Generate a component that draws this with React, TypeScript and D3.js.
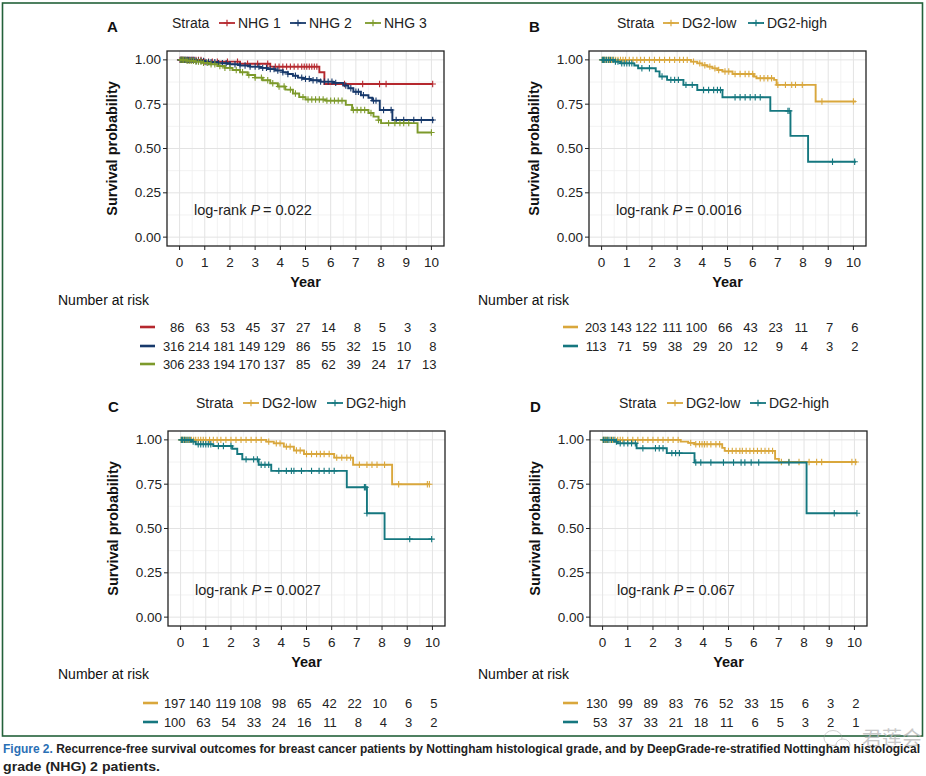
import React from "react";
import * as d3 from "d3";

type Step = [number, number];

// ---- data ----
const yearTicks = [0, 1, 2, 3, 4, 5, 6, 7, 8, 9, 10];
const survTicks = [0, 0.25, 0.5, 0.75, 1];
const survTickLabels = ["0.00", "0.25", "0.50", "0.75", "1.00"];

// Panel A: NHG grades
const nhg1Steps: Step[] = [[0, 1], [0.9, 0.99], [2.4, 0.978], [3.6, 0.962], [5.55, 0.93], [5.75, 0.864], [10.05, 0.864]];
const nhg1Censor = [0.02, 0.08, 0.12, 0.18, 0.25, 0.32, 0.4, 0.48, 0.55, 0.65, 0.75, 0.85, 1.0, 1.15, 1.3, 1.5, 1.9, 2.3, 2.7, 3.1, 3.5, 3.8, 3.95, 4.1, 4.25, 4.4, 4.55, 4.7, 4.85, 4.95, 5.05, 5.15, 5.25, 5.35, 5.45, 6.55, 7.27, 7.94, 8.2, 10.05];
const nhg2Steps: Step[] = [[0, 1], [0.6, 0.994], [1.0, 0.987], [1.5, 0.981], [2.0, 0.975], [2.4, 0.968], [2.8, 0.962], [3.2, 0.955], [3.5, 0.948], [3.8, 0.94], [4.1, 0.93], [4.3, 0.92], [4.5, 0.91], [4.7, 0.9], [4.9, 0.893], [5.2, 0.885], [5.6, 0.877], [6.1, 0.87], [6.5, 0.855], [6.7, 0.84], [6.9, 0.82], [7.2, 0.8], [7.5, 0.786], [7.65, 0.77], [7.95, 0.717], [8.45, 0.661], [10.1, 0.661]];
const nhg2Censor = [0.03, 0.07, 0.1, 0.15, 0.2, 0.25, 0.3, 0.35, 0.42, 0.5, 0.58, 0.66, 0.75, 0.85, 0.95, 1.05, 1.15, 1.25, 1.4, 1.55, 1.7, 1.85, 2.0, 2.2, 2.4, 2.6, 2.8, 3.0, 3.15, 3.3, 3.45, 3.6, 3.75, 3.9, 4.1, 4.3, 4.6, 4.85, 5.0, 5.15, 5.3, 5.45, 5.6, 5.75, 5.9, 6.05, 6.2, 6.6, 6.8, 7.0, 7.1, 7.3, 7.7, 7.8, 8.1, 8.4, 8.6, 8.9, 9.3, 9.6, 10.05];
const nhg3Steps: Step[] = [[0, 1], [0.3, 0.995], [0.6, 0.99], [0.9, 0.983], [1.2, 0.975], [1.5, 0.965], [1.8, 0.955], [2.1, 0.943], [2.4, 0.93], [2.7, 0.915], [3.0, 0.9], [3.3, 0.885], [3.6, 0.868], [3.9, 0.85], [4.2, 0.832], [4.5, 0.81], [4.75, 0.79], [5.0, 0.776], [5.8, 0.77], [6.6, 0.746], [6.85, 0.717], [7.5, 0.7], [7.7, 0.68], [7.9, 0.66], [8.0, 0.643], [9.45, 0.59], [10.0, 0.59]];
const nhg3Censor = [0.05, 0.1, 0.15, 0.22, 0.3, 0.38, 0.46, 0.55, 0.65, 0.75, 0.85, 0.95, 1.1, 1.25, 1.4, 1.6, 1.8, 2.0, 2.25, 2.5, 2.75, 3.0, 3.25, 3.5, 3.7, 3.95, 4.15, 4.4, 4.6, 4.9, 5.1, 5.25, 5.4, 5.55, 5.7, 5.85, 6.0, 6.15, 6.3, 6.45, 6.9, 7.05, 7.2, 7.35, 7.6, 7.9, 8.3, 8.55, 8.75, 8.9, 9.1, 10.0];
const riskNhg1 = [86, 63, 53, 45, 37, 27, 14, 8, 5, 3, 3];
const riskNhg2 = [316, 214, 181, 149, 129, 86, 55, 32, 15, 10, 8];
const riskNhg3 = [306, 233, 194, 170, 137, 85, 62, 39, 24, 17, 13];

// Panel B
const bLowSteps: Step[] = [[0, 1], [3.55, 0.99], [3.8, 0.98], [4.0, 0.97], [4.2, 0.962], [4.4, 0.952], [4.6, 0.943], [4.8, 0.934], [5.2, 0.92], [6.05, 0.906], [6.15, 0.896], [6.85, 0.887], [6.95, 0.859], [8.5, 0.765], [10.1, 0.765]];
const bLowCensor = [0.02, 0.06, 0.1, 0.14, 0.2, 0.26, 0.32, 0.4, 0.48, 0.56, 0.65, 0.75, 0.85, 0.95, 1.1, 1.25, 1.4, 1.55, 1.7, 1.9, 2.1, 2.3, 2.5, 2.7, 2.9, 3.1, 3.25, 3.4, 3.65, 3.9, 4.1, 4.3, 4.5, 4.65, 4.9, 5.05, 5.3, 5.5, 5.7, 5.85, 6.0, 6.3, 6.45, 6.6, 6.75, 7.0, 7.3, 7.55, 7.7, 7.97, 8.75, 10.0];
const bHighSteps: Step[] = [[0, 1], [0.5, 0.99], [0.75, 0.98], [1.3, 0.968], [1.45, 0.953], [2.15, 0.935], [2.3, 0.906], [2.6, 0.887], [3.25, 0.859], [3.8, 0.83], [4.8, 0.789], [6.7, 0.712], [7.5, 0.571], [8.2, 0.425], [10.1, 0.425]];
const bHighCensor = [0.03, 0.08, 0.13, 0.2, 0.28, 0.35, 0.45, 0.55, 0.65, 0.8, 0.9, 1.0, 1.1, 1.2, 1.6, 1.9, 2.4, 2.75, 2.9, 3.05, 3.35, 3.6, 4.05, 4.25, 4.45, 4.6, 4.72, 5.3, 5.5, 5.7, 5.9, 6.1, 6.3, 7.4, 7.45, 9.17, 10.05];
const riskBLow = [203, 143, 122, 111, 100, 66, 43, 23, 11, 7, 6];
const riskBHigh = [113, 71, 59, 38, 29, 20, 12, 9, 4, 3, 2];

// Panel C
const cLowSteps: Step[] = [[0, 1], [3.4, 0.99], [3.7, 0.98], [4.1, 0.962], [4.5, 0.94], [4.9, 0.92], [6.1, 0.9], [6.85, 0.86], [8.4, 0.75], [9.88, 0.75]];
const cLowCensor = [0.02, 0.06, 0.1, 0.15, 0.2, 0.27, 0.35, 0.43, 0.52, 0.6, 0.7, 0.8, 0.9, 1.0, 1.15, 1.3, 1.45, 1.6, 1.8, 2.0, 2.2, 2.4, 2.6, 2.8, 3.0, 3.2, 3.5, 3.8, 3.95, 4.2, 4.35, 4.6, 4.75, 5.0, 5.2, 5.4, 5.55, 5.7, 5.9, 6.2, 6.4, 6.6, 6.75, 7.1, 7.4, 7.6, 7.8, 8.1, 8.66, 9.8, 9.88];
const cHighSteps: Step[] = [[0, 1], [0.45, 0.99], [0.6, 0.975], [1.3, 0.965], [2.05, 0.95], [2.25, 0.92], [2.45, 0.89], [3.1, 0.86], [3.6, 0.825], [6.6, 0.733], [7.4, 0.586], [8.1, 0.44], [10.0, 0.44]];
const cHighCensor = [0.03, 0.08, 0.15, 0.22, 0.3, 0.38, 0.5, 0.7, 0.8, 0.9, 1.0, 1.1, 1.2, 1.5, 1.7, 2.0, 2.6, 2.9, 3.05, 3.2, 3.35, 3.5, 3.9, 4.2, 4.4, 4.5, 4.8, 5.2, 5.5, 5.7, 5.9, 6.1, 7.3, 7.35, 7.4, 9.1, 9.97];
const riskCLow = [197, 140, 119, 108, 98, 65, 42, 22, 10, 6, 5];
const riskCHigh = [100, 63, 54, 33, 24, 16, 11, 8, 4, 3, 2];

// Panel D
const dLowSteps: Step[] = [[0, 1], [3.1, 0.99], [3.4, 0.983], [3.65, 0.975], [4.75, 0.955], [4.85, 0.938], [6.85, 0.893], [7.0, 0.875], [10.1, 0.875]];
const dLowCensor = [0.02, 0.06, 0.1, 0.15, 0.2, 0.3, 0.4, 0.5, 0.6, 0.7, 0.8, 1.0, 1.2, 1.4, 1.6, 1.8, 2.0, 2.2, 2.4, 2.6, 2.8, 3.0, 3.5, 3.7, 3.85, 3.95, 4.05, 4.15, 4.3, 4.5, 4.65, 5.0, 5.15, 5.3, 5.45, 5.55, 5.7, 5.85, 6.0, 6.15, 6.3, 6.45, 6.6, 6.75, 7.1, 7.4, 7.8, 8.2, 8.5, 8.7, 9.9, 10.05];
const dHighSteps: Step[] = [[0, 1], [0.5, 0.99], [0.6, 0.98], [1.35, 0.953], [2.55, 0.925], [3.65, 0.872], [8.1, 0.586], [10.1, 0.586]];
const dHighCensor = [0.03, 0.1, 0.18, 0.25, 0.35, 0.45, 0.55, 0.7, 0.85, 1.0, 1.15, 1.3, 1.6, 2.1, 2.25, 2.4, 2.75, 2.9, 3.05, 3.7, 3.9, 4.3, 4.8, 5.2, 5.5, 5.65, 5.9, 6.2, 7.4, 9.2, 10.1];
const riskDLow = [130, 99, 89, 83, 76, 52, 33, 15, 6, 3, 2];
const riskDHigh = [53, 37, 33, 21, 18, 11, 6, 5, 3, 2, 1];

// ---- styling ----
const FONT = "'Liberation Sans', Arial, Helvetica, sans-serif";
const RED = "#b5282e";
const NAVY = "#17396b";
const OLIVE = "#7d9a2b";
const GOLD = "#d9a73c";
const TEAL = "#15777f";
const PW = 277;
const PH = 195;

interface Curve { label: string; color: string; steps: Step[]; censor: number[]; risk: number[]; keyX: number; }
interface PanelCfg {
  letter: string; left: number; top: number; curves: Curve[]; strataX: number;
  p: string; riskTitleX: number; riskTitleY: number; rowY: number[]; dashX: number;
}

const survAt = (steps: Step[], t: number) => {
  let s = steps[0][1];
  for (const [tt, ss] of steps) { if (tt <= t) s = ss; else break; }
  return s;
};

const panels: PanelCfg[] = [
  {
    letter: "A", left: 167, top: 51, strataX: 172, p: "0.022",
    riskTitleX: 58, riskTitleY: 300, rowY: [327, 346, 364], dashX: 140,
    curves: [
      { label: "NHG 1", color: RED, steps: nhg1Steps, censor: nhg1Censor, risk: riskNhg1, keyX: 219 },
      { label: "NHG 2", color: NAVY, steps: nhg2Steps, censor: nhg2Censor, risk: riskNhg2, keyX: 290 },
      { label: "NHG 3", color: OLIVE, steps: nhg3Steps, censor: nhg3Censor, risk: riskNhg3, keyX: 365 },
    ],
  },
  {
    letter: "B", left: 589, top: 51, strataX: 617, p: "0.0016",
    riskTitleX: 478, riskTitleY: 300, rowY: [327, 346], dashX: 563,
    curves: [
      { label: "DG2-low", color: GOLD, steps: bLowSteps, censor: bLowCensor, risk: riskBLow, keyX: 663 },
      { label: "DG2-high", color: TEAL, steps: bHighSteps, censor: bHighCensor, risk: riskBHigh, keyX: 748 },
    ],
  },
  {
    letter: "C", left: 168, top: 431, strataX: 196, p: "0.0027",
    riskTitleX: 58, riskTitleY: 674, rowY: [703, 722], dashX: 143,
    curves: [
      { label: "DG2-low", color: GOLD, steps: cLowSteps, censor: cLowCensor, risk: riskCLow, keyX: 243 },
      { label: "DG2-high", color: TEAL, steps: cHighSteps, censor: cHighCensor, risk: riskCHigh, keyX: 327 },
    ],
  },
  {
    letter: "D", left: 590, top: 431, strataX: 619, p: "0.067",
    riskTitleX: 478, riskTitleY: 674, rowY: [703, 722], dashX: 563,
    curves: [
      { label: "DG2-low", color: GOLD, steps: dLowSteps, censor: dLowCensor, risk: riskDLow, keyX: 667 },
      { label: "DG2-high", color: TEAL, steps: dHighSteps, censor: dHighCensor, risk: riskDHigh, keyX: 750 },
    ],
  },
];

const cross = (cx: number, cy: number, r = 3.2) => `M${cx - r},${cy}h${2 * r}M${cx},${cy - r}v${2 * r}`;

const Panel = ({ cfg }: { cfg: PanelCfg }) => {
  const x = d3.scaleLinear().domain([-0.5, 10.5]).range([cfg.left, cfg.left + PW]);
  const y = d3.scaleLinear().domain([-0.05, 1.05]).range([cfg.top + PH, cfg.top]);
  const line = d3.line<Step>().x(d => x(d[0])).y(d => y(d[1])).curve(d3.curveStepAfter);
  const bottom = cfg.top + PH;
  const right = cfg.left + PW;
  const legY = cfg.top - 28;
  const xMinor = yearTicks.slice(1).map(v => v - 0.5);
  const yMinor = survTicks.slice(1).map(v => v - 0.125);

  return (
    <g fontFamily={FONT}>
      <text x={cfg.left - 60} y={legY + 3.5} fontSize={15} fontWeight="bold" fill="#111" dominantBaseline="central">{cfg.letter}</text>
      {/* legend */}
      <text x={cfg.strataX} y={legY} fontSize={14} fill="#222" dominantBaseline="central">Strata</text>
      {cfg.curves.map(c => (
        <g key={c.label}>
          <line x1={c.keyX} x2={c.keyX + 16} y1={legY} y2={legY} stroke={c.color} strokeWidth={1.8} />
          <path d={cross(c.keyX + 8, legY)} stroke={c.color} strokeWidth={1.2} />
          <text x={c.keyX + 19} y={legY} fontSize={14} fill="#222" dominantBaseline="central">{c.label}</text>
        </g>
      ))}
      {/* grid */}
      {xMinor.map(v => <line key={"xm" + v} x1={x(v)} x2={x(v)} y1={cfg.top} y2={bottom} stroke="#efefef" strokeWidth={0.8} />)}
      {yMinor.map(v => <line key={"ym" + v} x1={cfg.left} x2={right} y1={y(v)} y2={y(v)} stroke="#efefef" strokeWidth={0.8} />)}
      {yearTicks.map(v => <line key={"xg" + v} x1={x(v)} x2={x(v)} y1={cfg.top} y2={bottom} stroke="#e3e3e3" strokeWidth={1} />)}
      {survTicks.map(v => <line key={"yg" + v} x1={cfg.left} x2={right} y1={y(v)} y2={y(v)} stroke="#e3e3e3" strokeWidth={1} />)}
      {/* curves */}
      {cfg.curves.map(c => (
        <g key={"c" + c.label}>
          <path d={line(c.steps) || ""} fill="none" stroke={c.color} strokeWidth={1.9} />
          {c.censor.map((t, i) => (
            <path key={i} d={cross(x(t), y(survAt(c.steps, t)))} stroke={c.color} strokeWidth={1.1} fill="none" />
          ))}
        </g>
      ))}
      <text x={cfg.left + 27} y={cfg.top + 159} fontSize={14.5} fill="#222" dominantBaseline="central">
        log-rank <tspan fontStyle="italic">P</tspan>{"\u2009= " + cfg.p}
      </text>
      {/* frame + axes */}
      <rect x={cfg.left} y={cfg.top} width={PW} height={PH} fill="none" stroke="#222" strokeWidth={1.3} />
      {survTicks.map((v, i) => (
        <g key={"yt" + v}>
          <line x1={cfg.left - 4} x2={cfg.left} y1={y(v)} y2={y(v)} stroke="#222" strokeWidth={1} />
          <text x={cfg.left - 6} y={y(v)} fontSize={13.5} fill="#222" textAnchor="end" dominantBaseline="central">{survTickLabels[i]}</text>
        </g>
      ))}
      {yearTicks.map(v => (
        <g key={"xt" + v}>
          <line x1={x(v)} x2={x(v)} y1={bottom} y2={bottom + 4} stroke="#222" strokeWidth={1} />
          <text x={x(v)} y={bottom + 16} fontSize={13.5} fill="#222" textAnchor="middle" dominantBaseline="central">{v}</text>
        </g>
      ))}
      <text x={(cfg.left + right) / 2} y={bottom + 36} fontSize={14.5} fontWeight="bold" fill="#111" textAnchor="middle" dominantBaseline="central">Year</text>
      <text transform={`translate(${cfg.left - 55},${(cfg.top + bottom) / 2}) rotate(-90)`} fontSize={14.5} fontWeight="bold" fill="#111" textAnchor="middle" dominantBaseline="central">Survival probability</text>
      {/* risk table */}
      <text x={cfg.riskTitleX} y={cfg.riskTitleY} fontSize={14} fill="#111" dominantBaseline="central">Number at risk</text>
      {cfg.curves.map((c, ci) => (
        <g key={"r" + c.label}>
          <line x1={cfg.dashX} x2={cfg.dashX + 15} y1={cfg.rowY[ci]} y2={cfg.rowY[ci]} stroke={c.color} strokeWidth={2.6} />
          {c.risk.map((n, i) => (
            <text key={i} x={x(yearTicks[i]) + 5} y={cfg.rowY[ci]} fontSize={13} fill="#222" textAnchor="end" dominantBaseline="central">{n}</text>
          ))}
        </g>
      ))}
    </g>
  );
};

export default function App() {
  return (
    <svg width={926} height={776} style={{ position: "absolute", left: 0, top: 0, background: "#fff" }}>
      <rect x={0} y={0} width={926} height={776} fill="#fff" />
      <rect x={2.5} y={3} width={920} height={733} fill="none" stroke="#23613a" strokeWidth={1.6} />
      {panels.map(p => <Panel key={p.letter} cfg={p} />)}
      {/* watermark */}
      <g opacity={0.45} fill="none" stroke="#999" strokeWidth={1}>
        <ellipse cx={833} cy={738} rx={9} ry={7.5} />
        <ellipse cx={843} cy={745} rx={7} ry={6} fill="#fff" />
      </g>
      <text x={862} y={746} fontSize={20} fill="#bbb" opacity={0.8} fontFamily="'Noto Sans CJK SC', sans-serif">君莲会</text>
      {/* caption */}
      <text x={3} y={753} fontSize={12.5} fontWeight="bold" fontFamily="'Liberation Sans Narrow', 'Arial Narrow', sans-serif" textLength={917} lengthAdjust="spacingAndGlyphs">
        <tspan fill="#2a6fb5">Figure 2.</tspan>
        <tspan fill="#222">{"  Recurrence-free survival outcomes for breast cancer patients by Nottingham histological grade, and by DeepGrade-re-stratified Nottingham histological"}</tspan>
      </text>
      <text x={3} y={771} fontSize={12.5} fontWeight="bold" fill="#222" fontFamily="'Liberation Sans Narrow', 'Arial Narrow', sans-serif" textLength={157} lengthAdjust="spacingAndGlyphs">grade (NHG) 2 patients.</text>
    </svg>
  );
}
